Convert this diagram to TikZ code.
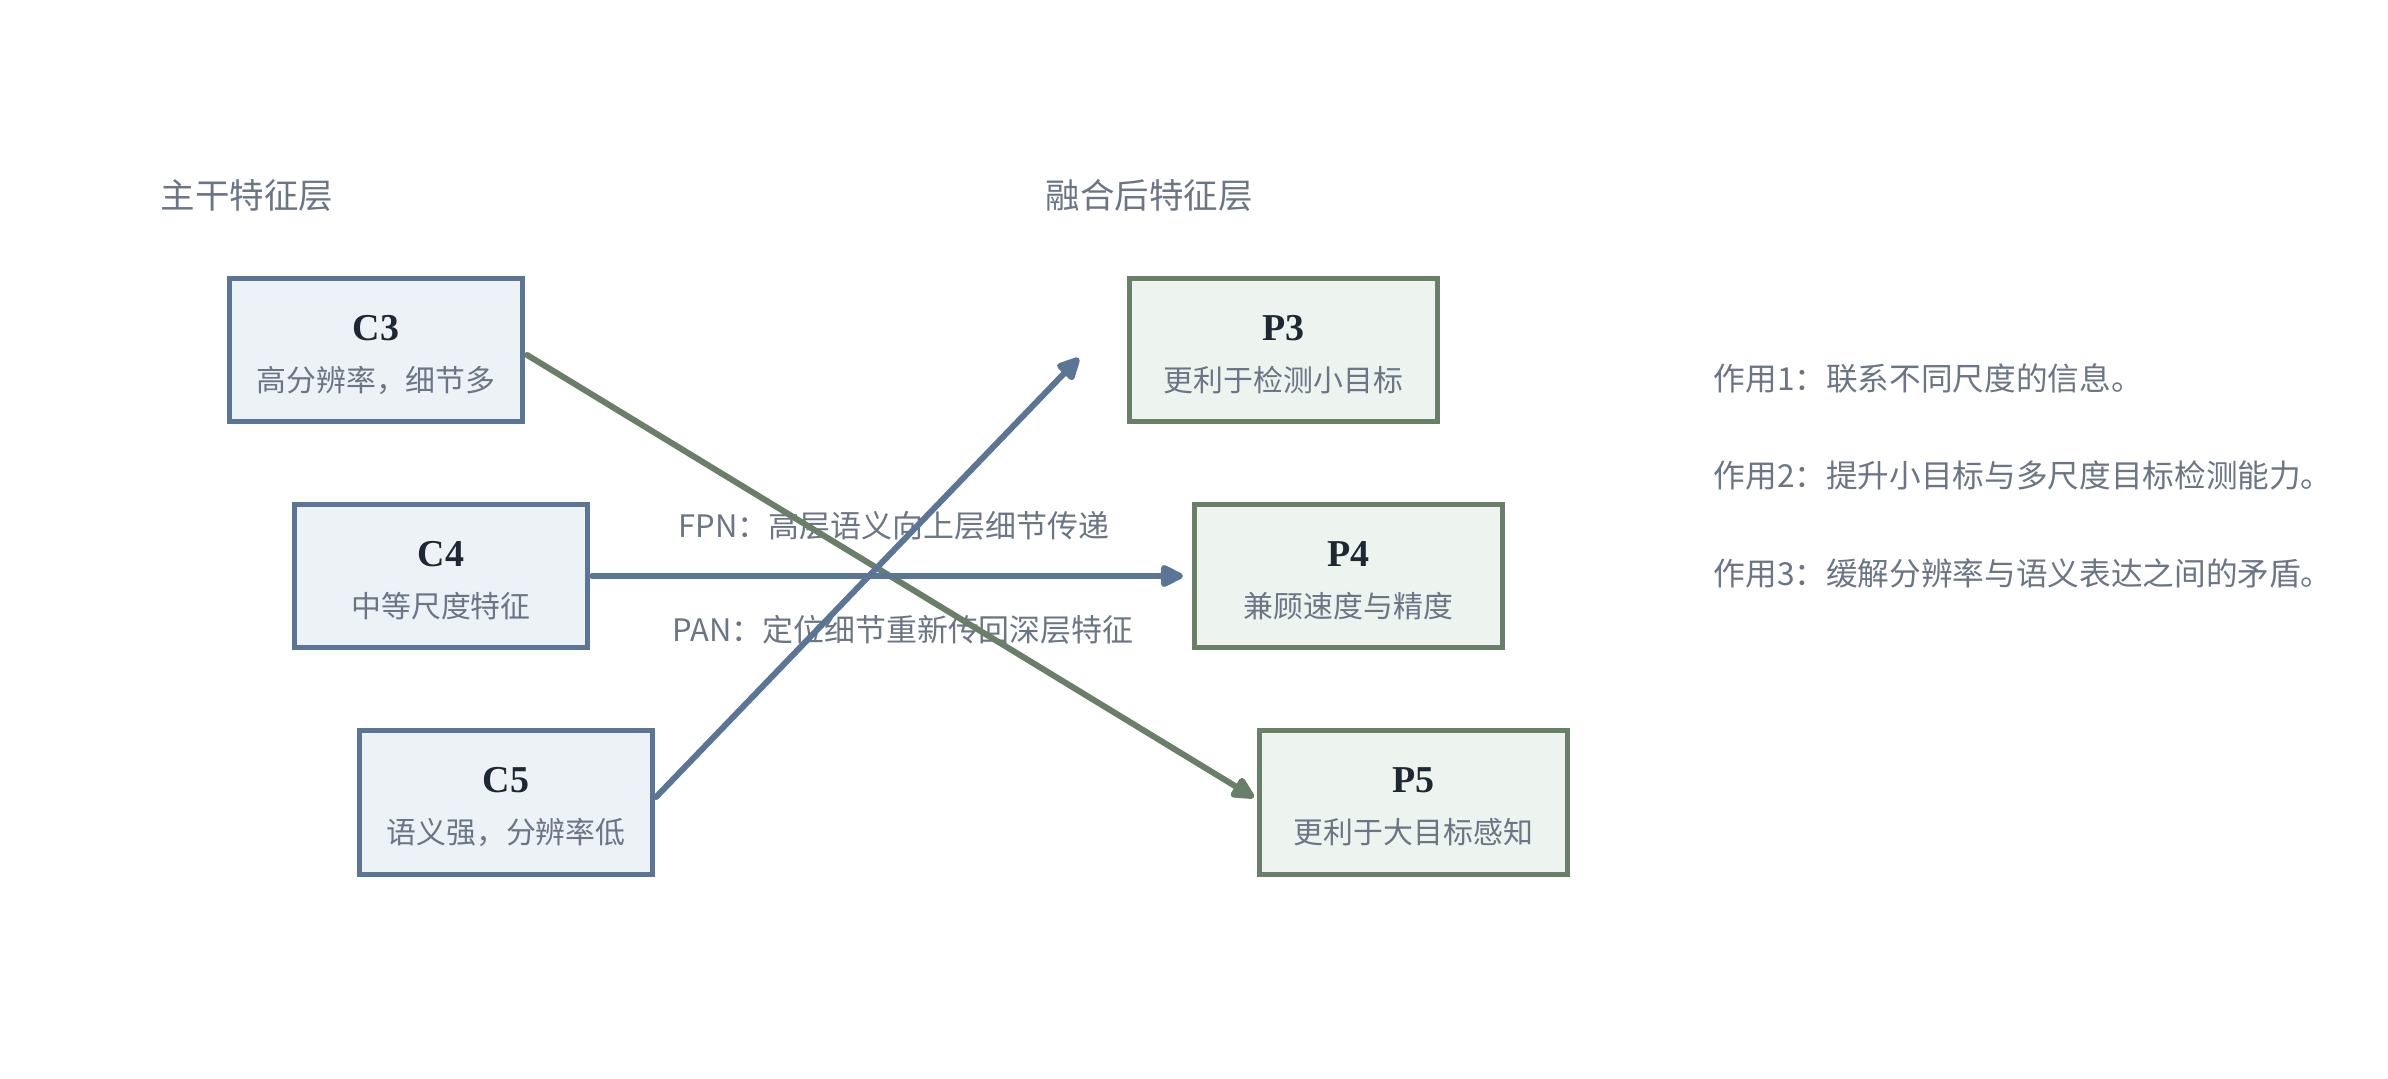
\documentclass[tikz,border=0pt]{standalone}
\usepackage{fontspec}
\setmainfont{Liberation Serif}
\newfontfamily\cjk{Noto Sans CJK SC}
\usetikzlibrary{arrows.meta,calc}
\definecolor{bblue}{HTML}{5B7596}
\definecolor{bfill}{HTML}{EDF2F7}
\definecolor{gborder}{HTML}{6A7F68}
\definecolor{gfill}{HTML}{EDF3EF}
\definecolor{txtgray}{HTML}{6B7585}
\definecolor{txtdark}{HTML}{1E2832}
\begin{document}
\begin{tikzpicture}[x=0.01cm,y=-0.01cm,
  cbox/.style={draw=bblue, fill=bfill, line width=0.05cm, minimum width=2.93cm, minimum height=1.43cm, inner sep=0pt},
  pbox/.style={draw=gborder, fill=gfill, line width=0.05cm, minimum width=3.08cm, minimum height=1.43cm, inner sep=0pt},
  boxtitle/.style={font=\fontsize{10.8}{12}\selectfont\bfseries, text=txtdark, inner sep=0pt},
  boxsub/.style={font=\cjk\fontsize{8.5}{10}\selectfont, text=txtgray, inner sep=0pt},
  header/.style={font=\cjk\fontsize{9.8}{11}\selectfont, text=txtgray, inner sep=0pt, anchor=west},
  note/.style={font=\cjk\fontsize{9}{11}\selectfont, text=txtgray, inner sep=0pt, anchor=west},
  flowlabel/.style={font=\cjk\fontsize{8.8}{11}\selectfont, text=txtgray, inner sep=0pt},
  barrow/.style={draw=bblue, line width=0.06cm, line cap=round, -{Triangle[length=0.26cm,width=0.24cm,round]}},
  garrow/.style={draw=gborder, line width=0.06cm, line cap=round, -{Triangle[length=0.26cm,width=0.24cm,round]}}
]
\useasboundingbox[fill=white] (0,0) rectangle (2388,1079);

% headers
\node[header] (h1) at (160,196) {主干特征层};
\node[header] (h2) at (1045,196) {融合后特征层};

% C boxes
\node[cbox] (c3) at (376,350) {};
\node[cbox] (c4) at (441,576) {};
\node[cbox] (c5) at (506,802.5) {};
% P boxes
\node[pbox] (p3) at (1283.5,350) {};
\node[pbox] (p4) at (1348.5,576) {};
\node[pbox] (p5) at (1413.5,802.5) {};

\foreach \n/\t/\s in {c3/C3/{高分辨率，细节多}, c4/C4/{中等尺度特征}, c5/C5/{语义强，分辨率低}, p3/P3/{更利于检测小目标}, p4/P4/{兼顾速度与精度}, p5/P5/{更利于大目标感知}}{
  \node[boxtitle] (\n t) at ($(\n.center)+(0,-22)$) {\t};
  \node[boxsub] (\n s) at ($(\n.center)+(0,30)$) {\s};
}

% flow labels
\node[flowlabel] (fpn) at (894,526) {FPN：高层语义向上层细节传递};
\node[flowlabel] (pan) at (903,630) {PAN：定位细节重新传回深层特征};

% notes
\node[note] (n1) at (1713,378) {作用1：联系不同尺度的信息。};
\node[note] (n2) at (1713,475) {作用2：提升小目标与多尺度目标检测能力。};
\node[note] (n3) at (1713,573) {作用3：缓解分辨率与语义表达之间的矛盾。};

% connectors
\draw[garrow] ($(c3.east)+(2,5)$) -- ($(p5.west)+(-3,-5)$);
\draw[barrow] ($(c4.east)+(2,0)$) -- ($(p4.west)+(-9,0)$);
\draw[barrow] ($(c5.east)+(1,-5.5)$) -- ($(p3.west)+(-48,8)$);
\end{tikzpicture}
\end{document}
